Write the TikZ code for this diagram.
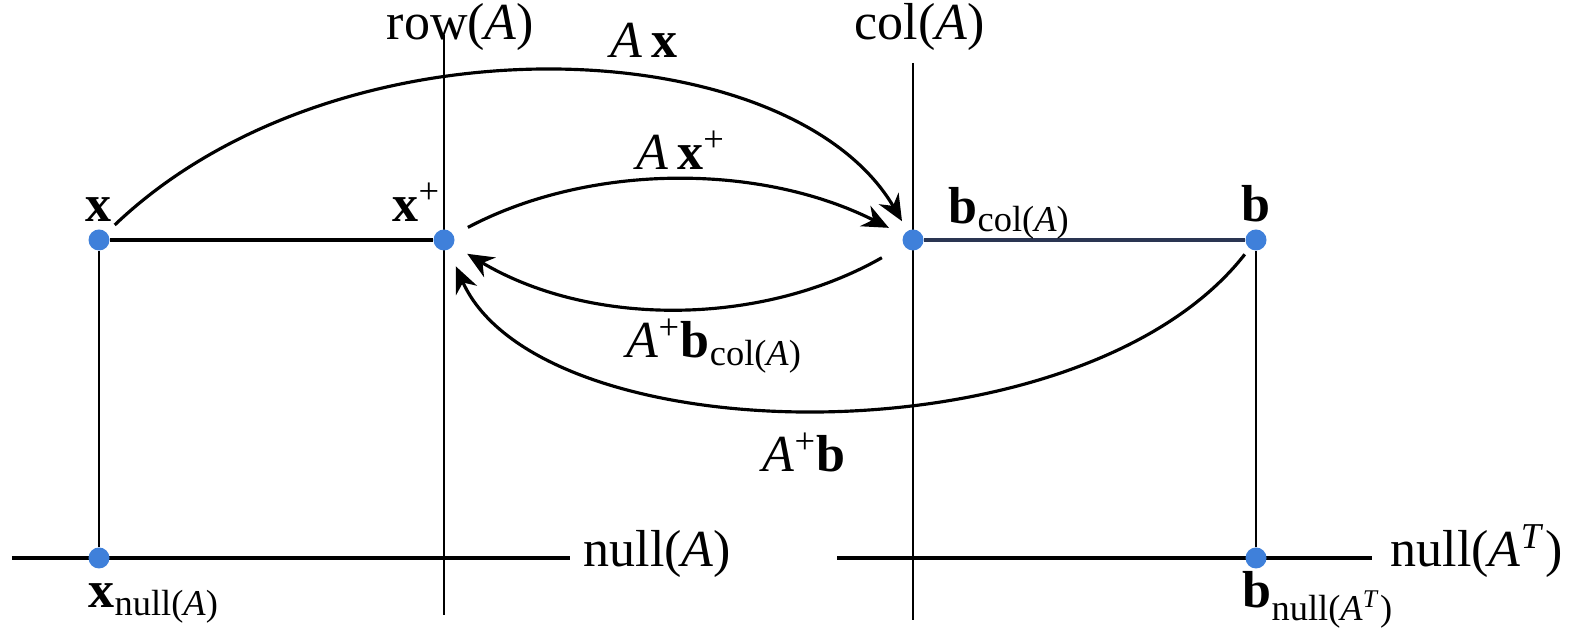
\documentclass[tikz,border=0pt]{standalone}
\usepackage{fontspec}
\setmainfont{Liberation Serif}
\usetikzlibrary{arrows.meta,positioning,backgrounds}
\definecolor{DotBlue}{HTML}{3F80DA}
\definecolor{Navy}{HTML}{2A3552}

\begin{document}
\begin{tikzpicture}[font=\fontsize{14.8}{17}\selectfont,>={Stealth[length=7.5pt,width=6.5pt]},
  pt/.style={circle,fill=DotBlue,inner sep=0pt,minimum size=2.1mm},
  axis/.style={line width=0.75pt},
  seg/.style={line width=1.1pt},
  map/.style={->,line width=0.9pt},
  lbl/.style={inner sep=0pt}]
  \useasboundingbox (0,0) rectangle (15.82,6.30);
  % the points
  \node[pt] (xpt) at (0.99,3.90) {};
  \node[pt] (xplus) at (4.44,3.90) {};
  \node[pt] (bcol) at (9.13,3.90) {};
  \node[pt] (bpt) at (12.56,3.90) {};
  \node[pt] (xnull) at (0.99,0.72) {};
  \node[pt] (bnull) at (12.56,0.72) {};
  % subspaces
  \coordinate (rowtop) at (4.44,5.95); \coordinate (rowbot) at (4.44,0.15);
  \coordinate (coltop) at (9.13,5.67); \coordinate (colbot) at (9.13,0.10);
  \coordinate (nullAl) at (0.12,0.72); \coordinate (nullAr) at (5.70,0.72);
  \coordinate (nullATl) at (8.37,0.72); \coordinate (nullATr) at (13.72,0.72);
  \begin{scope}[on background layer]
    \draw[axis] (rowtop) -- (rowbot);
    \draw[axis] (coltop) -- (colbot);
    \draw[seg] (nullAl) -- (nullAr);
    \draw[seg] (nullATl) -- (nullATr);
  \end{scope}
  \draw[seg] (xpt) -- (xplus);
  \draw[seg,Navy] (bcol) -- (bpt);
  \draw[axis] (xpt) -- (xnull);
  \draw[axis] (bpt) -- (bnull);
  % the maps
  \draw[map,shorten <=3pt,shorten >=3pt] (xpt) .. controls (3.4,6.2) and (7.9,6.0) .. (bcol);
  \draw[map,shorten <=4.5pt,shorten >=4.5pt] (xplus) .. controls (5.9,4.67) and (7.6,4.67) .. (bcol);
  \draw[map,shorten <=7pt,shorten >=4.5pt] (bcol) .. controls (7.6,3.03) and (5.9,3.03) .. (xplus);
  \draw[map,shorten <=2pt,shorten >=5pt] (bpt) .. controls (10.8,1.65) and (5.4,1.75) .. (xplus);
  % labels
  \node[lbl,anchor=base west] (rowlbl) at (3.86,5.90) {row(\textit{A})};
  \node[lbl,anchor=base west] (collbl) at (8.54,5.90) {col(\textit{A})};
  \node[lbl,anchor=base west] (axlbl) at (6.10,5.72) {\textit{A}\,\textbf{x}};
  \node[lbl,anchor=base] (xlbl) at (0.99,4.08) {\textbf{x}};
  \node[lbl,anchor=base west] (xpluslbl) at (3.92,4.08) {\textbf{x}\textsuperscript{+}};
  \node[lbl,anchor=base west] (bcollbl) at (9.48,4.06) {\textbf{b}\textsubscript{col(\textit{A})}};
  \node[lbl,anchor=base] (blbl) at (12.56,4.08) {\textbf{b}};
  \node[lbl,anchor=base west] (axplbl) at (6.36,4.60) {\textit{A}\,\textbf{x}\textsuperscript{+}};
  \node[lbl,anchor=base west] (apbcollbl) at (6.26,2.72) {\textit{A}\textsuperscript{+}\textbf{b}\textsubscript{col(\textit{A})}};
  \node[lbl,anchor=base west] (apblbl) at (7.62,1.58) {\textit{A}\textsuperscript{+}\textbf{b}};
  \node[lbl,anchor=base west] (xnulllbl) at (0.88,0.22) {\textbf{x}\textsubscript{null(\textit{A})}};
  \node[lbl,anchor=base west] (bnulllbl) at (12.42,0.22) {\textbf{b}\textsubscript{null(\textit{A}\textsuperscript{\textit{T}})}};
  \node[lbl,anchor=base west] (nullalbl) at (5.83,0.63) {null(\textit{A})};
  \node[lbl,anchor=base west] (nullatlbl) at (13.90,0.63) {null(\textit{A}\textsuperscript{\textit{T}})};
\end{tikzpicture}
\end{document}
